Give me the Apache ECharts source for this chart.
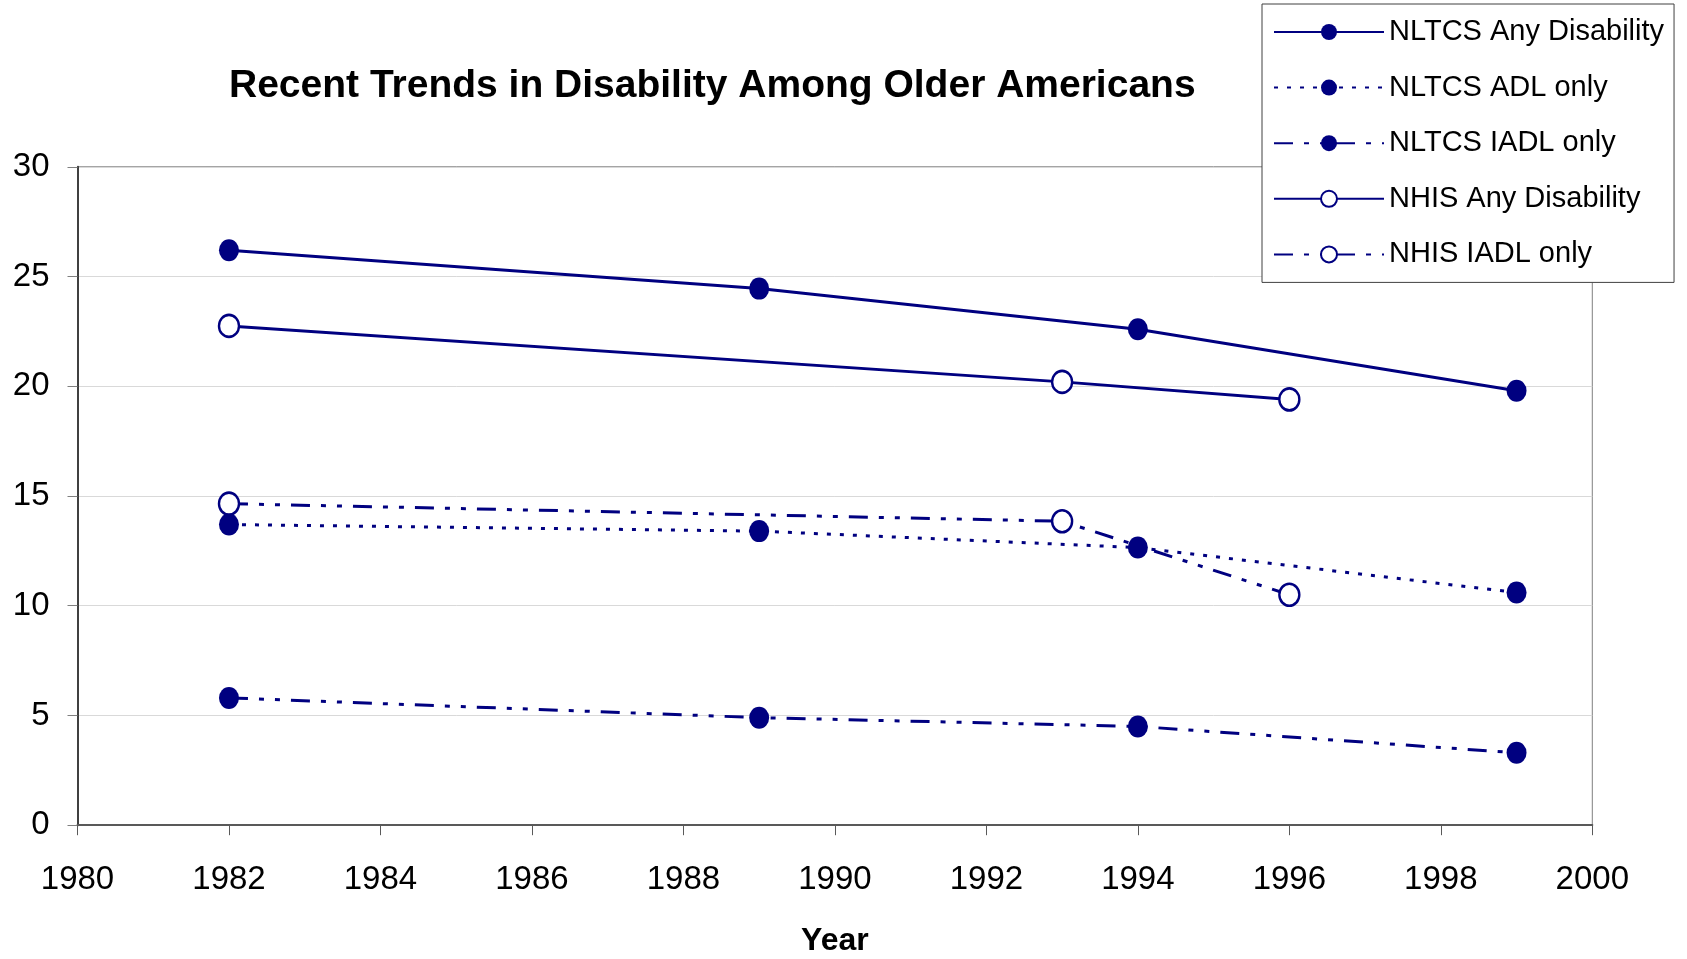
<!DOCTYPE html>
<html>
<head>
<meta charset="utf-8">
<title>Recent Trends in Disability Among Older Americans</title>
<script src="https://cdn.jsdelivr.net/npm/echarts@6/dist/echarts.min.js"></script>
<style>
  html, body { margin: 0; padding: 0; background: #fff; }
  #chart { width: 1687px; height: 959px; }
</style>
</head>
<body>
<div id="chart"></div>
<script>
// values
const nltcsYears = [1982, 1989, 1994, 1999];
const nhisYears = [1982, 1993, 1996];

const nltcsAny = [26.2, 24.45, 22.6, 19.8];
const nltcsAdl = [13.7, 13.4, 12.65, 10.6];
const nltcsIadl = [5.8, 4.9, 4.5, 3.3];
const nhisAny = [22.75, 20.2, 19.4];
const nhisIadl = [14.65, 13.85, 10.5];

const navy = '#000080';
const font = 'Liberation Sans, Arial, sans-serif';

function pairs(xs, ys) {
  return xs.map((x, i) => [x, ys[i]]);
}

function makeSeries(name, xs, ys, dash, open) {
  return {
    name: name,
    type: 'line',
    data: pairs(xs, ys),
    symbol: 'circle',
    symbolSize: [20, 22],
    showSymbol: true,
    lineStyle: { color: navy, width: 3, type: dash },
    itemStyle: open
      ? { color: '#fff', borderColor: navy, borderWidth: 2.5 }
      : { color: navy, borderColor: navy, borderWidth: 0 },
    emphasis: { disabled: true },
    animation: false,
    z: 3
  };
}

const dashDotDot = [19, 11, 5, 11, 5, 11];
const dotted = [4, 9];

const chart = echarts.init(document.getElementById('chart'));
chart.setOption({
  backgroundColor: '#fff',
  animation: false,
  title: {
    text: 'Recent Trends in Disability Among Older Americans',
    left: 229,
    top: 67,
    padding: 0,
    textStyle: { fontFamily: font, fontSize: 39, fontWeight: 'bold', color: '#000' }
  },
  grid: {
    left: 77.5,
    right: 94.7,
    top: 166.8,
    bottom: 133.8,
    outerBoundsMode: 'none',
    containLabel: false,
    show: true,
    borderColor: '#808080',
    borderWidth: 1,
    backgroundColor: '#fff'
  },
  legend: {
    orient: 'vertical',
    left: 1262,
    top: 4,
    padding: [10, 10, 10, 11],
    itemWidth: 110,
    itemHeight: 20,
    itemGap: 19.6,
    backgroundColor: '#fff',
    borderColor: '#404040',
    borderWidth: 1,
    borderRadius: 0,
    z: 10,
    textStyle: { fontFamily: font, fontSize: 29, color: '#000', height: 36, lineHeight: 36 },
    data: ['NLTCS Any Disability', 'NLTCS ADL only', 'NLTCS IADL only', 'NHIS Any Disability', 'NHIS IADL only']
  },
  xAxis: {
    type: 'value',
    min: 1980,
    max: 2000,
    interval: 2,
    name: 'Year',
    nameLocation: 'middle',
    nameGap: 100,
    nameTextStyle: { fontFamily: font, fontSize: 32, fontWeight: 'bold', color: '#000' },
    axisLine: { show: true, onZero: false, lineStyle: { color: '#595959', width: 2 } },
    axisTick: { show: true, length: 10, lineStyle: { color: '#595959', width: 1 } },
    axisLabel: { fontFamily: font, fontSize: 33, color: '#000', margin: 38, formatter: v => String(v) },
    splitLine: { show: false }
  },
  yAxis: {
    type: 'value',
    min: 0,
    max: 30,
    interval: 5,
    axisLine: { show: true, lineStyle: { color: '#404040', width: 2 } },
    axisTick: { show: true, length: 10, lineStyle: { color: '#808080', width: 1 } },
    axisLabel: { fontFamily: font, fontSize: 33, color: '#000', margin: 28 },
    splitLine: { show: true, lineStyle: { color: '#d9d9d9', width: 1 } }
  },
  series: [
    makeSeries('NLTCS Any Disability', nltcsYears, nltcsAny, 'solid', false),
    makeSeries('NLTCS ADL only', nltcsYears, nltcsAdl, dotted, false),
    makeSeries('NLTCS IADL only', nltcsYears, nltcsIadl, dashDotDot, false),
    makeSeries('NHIS Any Disability', nhisYears, nhisAny, 'solid', true),
    makeSeries('NHIS IADL only', nhisYears, nhisIadl, dashDotDot, true)
  ]
});
</script>
</body>
</html>
